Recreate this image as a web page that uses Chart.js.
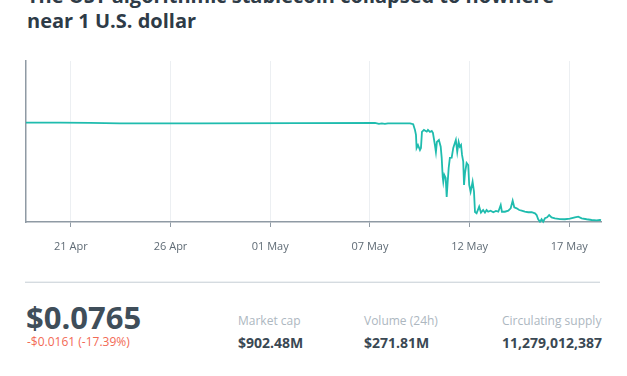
<!DOCTYPE html>
<html>
<head>
<meta charset="utf-8">
<script src="https://cdn.jsdelivr.net/npm/chart.js@4/dist/chart.umd.min.js"></script>
<style>
  html, body { margin: 0; padding: 0; background: #ffffff; width: 627px; height: 376px; overflow: hidden; position: relative; font-family: "Open Sans", "Noto Sans", sans-serif; }
  .abs { position: absolute; white-space: nowrap; line-height: 1; }
  #title { position: absolute; left: 27px; top: -17.5px; font-size: 20px; font-weight: 700; line-height: 25px; color: #2e3b47; white-space: nowrap; }
  #chartBox { position: absolute; left: 0; top: 51px; width: 627px; height: 211px; }
  #sep { position: absolute; left: 25px; top: 282px; width: 575px; height: 1px; background: #d5dbe0; box-shadow: 0 -1px 0 #eef1f3; }
  .price { font-size: 31px; font-weight: 700; color: #3f4e5a; }
  .change { font-size: 12px; color: #f26a55; }
  .lbl { font-size: 12px; color: #adb7bf; }
  .val { font-size: 14px; font-weight: 700; color: #3a4853; }
</style>
</head>
<body>
<div id="title">The UST algorithmic stablecoin collapsed to nowhere<br>near 1 U.S. dollar</div>
<div id="chartBox"><canvas id="c" width="627" height="211"></canvas></div>
<div id="sep"></div>
<div class="abs price" style="left:26px; top:302px;">$0.0765</div>
<div class="abs change" style="left:27px; top:336px;">-$0.0161 (-17.39%)</div>
<div class="abs lbl" style="left:238px; top:315px;">Market cap</div>
<div class="abs val" style="left:238px; top:336px;">$902.48M</div>
<div class="abs lbl" style="left:364px; top:315px;">Volume (24h)</div>
<div class="abs val" style="left:364px; top:336px;">$271.81M</div>
<div class="abs lbl" style="left:502px; top:315px;">Circulating supply</div>
<div class="abs val" style="left:502px; top:336px;">11,279,012,387</div>
<script>
// Time in days since the start of the window (18.75 Apr), price in USD
const days = [
  0, 1.71, 3.21, 4.71, 8.73, 13.74, 17.50, 17.70, 17.85, 18.00, 18.15, 18.51, 19.26,
  19.42, 19.51, 19.56, 19.59, 19.66, 19.76, 19.81, 19.86, 19.96, 20.10, 20.16, 20.26,
  20.35, 20.41, 20.51, 20.56, 20.61, 20.71, 20.80, 20.85, 20.90, 20.93, 20.98, 21.05,
  21.10, 21.15, 21.20, 21.26, 21.35, 21.43, 21.51, 21.56, 21.63, 21.70, 21.76, 21.82,
  21.87, 21.93, 21.97, 22.02, 22.10, 22.18, 22.23, 22.30, 22.40, 22.47, 22.52, 22.60,
  22.73, 22.82, 22.93, 23.02, 23.10, 23.18, 23.30, 23.44, 23.57, 23.69, 23.81, 23.87,
  24.02, 24.19, 24.31, 24.41, 24.49, 24.61, 24.74, 24.86, 25.02, 25.19, 25.36, 25.53,
  25.61, 25.69, 25.78, 25.86, 25.94, 26.03, 26.14, 26.24, 26.36, 26.53, 26.78, 27.03,
  27.28, 27.53, 27.70, 27.87, 28.12, 28.37, 28.62, 28.78, 28.84
];
const prices = [
  0.998, 0.998, 0.996, 0.992, 0.992, 0.993, 0.995, 0.986, 0.991, 0.986, 0.992, 0.992, 0.992,
  0.983, 0.929, 0.882, 0.759, 0.787, 0.740, 0.759, 0.910, 0.929, 0.913, 0.929, 0.910,
  0.920, 0.901, 0.787, 0.721, 0.816, 0.835, 0.771, 0.665, 0.485, 0.438, 0.504, 0.476,
  0.296, 0.438, 0.570, 0.665, 0.667, 0.759, 0.806, 0.835, 0.721, 0.816, 0.771, 0.787,
  0.693, 0.630, 0.410, 0.523, 0.617, 0.598, 0.410, 0.346, 0.441, 0.346, 0.154, 0.142,
  0.205, 0.148, 0.173, 0.148, 0.173, 0.157, 0.167, 0.152, 0.164, 0.157, 0.221, 0.157,
  0.157, 0.167, 0.189, 0.261, 0.199, 0.189, 0.173, 0.167, 0.157, 0.152, 0.152, 0.142,
  0.126, 0.086, 0.063, 0.086, 0.063, 0.095, 0.104, 0.126, 0.104, 0.095, 0.088, 0.086,
  0.091, 0.104, 0.110, 0.095, 0.086, 0.079, 0.076, 0.079, 0.0765
];
const tickDays = [2.25, 7.25, 12.25, 17.25, 22.25, 27.25];
const tickLabels = ["21 Apr", "26 Apr", "01 May", "07 May", "12 May", "17 May"];

const points = days.map((d, i) => ({ x: d, y: prices[i] }));

new Chart(document.getElementById('c'), {
  type: 'line',
  data: {
    datasets: [{
      data: points,
      borderColor: '#1fbcae',
      borderWidth: 1.8,
      pointRadius: 0,
      tension: 0,
      fill: false,
      clip: 4
    }]
  },
  options: {
    responsive: false,
    devicePixelRatio: 1,
    animation: false,
    parsing: false,
    layout: { padding: { top: 10, right: 26, left: 0, bottom: 0 } },
    plugins: { legend: { display: false }, tooltip: { enabled: false }, title: { display: false } },
    scales: {
      x: {
        type: 'linear',
        min: 0,
        max: 28.84,
        afterBuildTicks: (scale) => { scale.ticks = tickDays.map(v => ({ value: v })); },
        afterFit: (scale) => { scale.height = 40; },
        ticks: {
          autoSkip: false,
          maxRotation: 0,
          padding: 13,
          color: '#5f6b75',
          font: { family: '"Open Sans", sans-serif', size: 11 },
          callback: (value, index) => tickLabels[index]
        },
        grid: { display: true, color: '#eceff2', lineWidth: 1, tickLength: 5, tickColor: '#8f9aa4', drawTicks: true },
        border: { display: true, color: '#8f9aa4', width: 1.5 }
      },
      y: {
        min: 0.06,
        max: 1.58,
        afterFit: (scale) => { scale.width = 26; },
        ticks: { display: false },
        grid: { display: false },
        border: { display: true, color: '#8f9aa4', width: 1.5 }
      }
    }
  }
});
</script>
</body>
</html>
